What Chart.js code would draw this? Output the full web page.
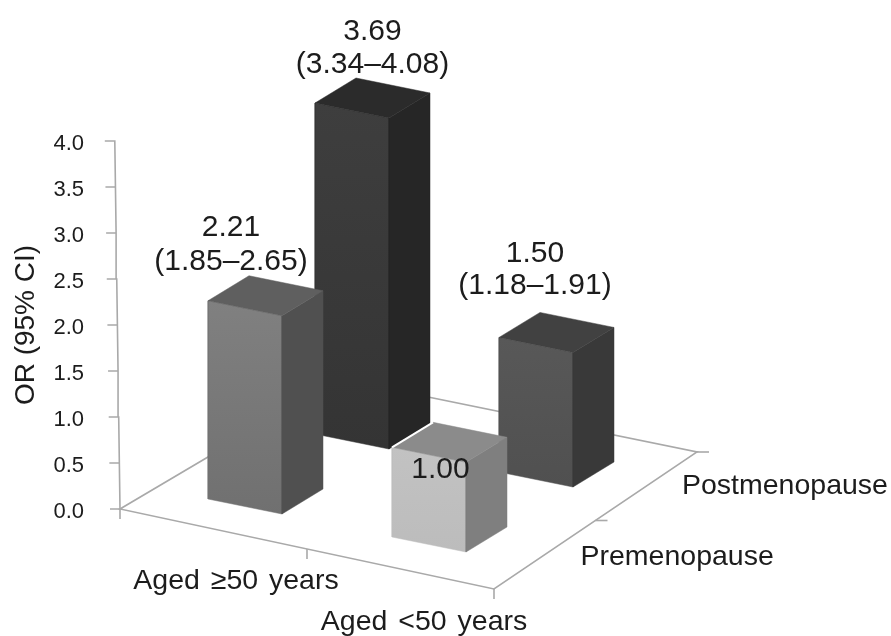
<!DOCTYPE html>
<html>
<head>
<meta charset="utf-8">
<style>html,body{margin:0;padding:0;background:#fff}#w{width:891px;height:636px}</style>
<script src="https://cdn.jsdelivr.net/npm/chart.js@4/dist/chart.umd.js"></script>
</head>
<body>
<div id="w"><canvas id="c"></canvas></div>
<script>
// ---- data ----
const ageGroups = ["Aged \u226550 years", "Aged <50 years"];
const menopause = ["Premenopause", "Postmenopause"];
const orPremenopause = [2.21, 1.00];
const orPostmenopause = [3.69, 1.50];
const ciPremenopause = ["(1.85\u20132.65)", ""];
const ciPostmenopause = ["(3.34\u20134.08)", "(1.18\u20131.91)"];
const yTicks = [0, 0.5, 1, 1.5, 2, 2.5, 3, 3.5, 4];
const yTitle = "OR (95% CI)";

// ---- styles per [age][menopause]: front top, front bottom, side, top ----
const shades = [
  [["#808080", "#707070", "#505050", "#5f5f5f"], ["#3e3e3e", "#343434", "#262626", "#2b2b2b"]],
  [["#c2c2c2", "#bcbcbc", "#7f7f7f", "#8b8b8b"], ["#585858", "#505050", "#393939", "#414141"]]
];
const FONT = '"Liberation Sans", Arial, sans-serif';
const AXIS_COLOR = "#a9a9a9";
const TEXT_COLOR = "#1c1c1c";

// ---- oblique 3D projection geometry ----
const LEFT = 105, TOP = 14, H = 636, W = 891, ZERO_Y = 509, UNIT = 92;
const HEIGHT_K = 0.975;                       // bars are a little shorter than the wall axis
const ORIGIN = [120, 509];                    // floor corner under the value axis
const BACK_CORNER = [340, 379];               // hidden floor corner behind the bars
const FLOOR_X = [374, 80];                    // full floor edge along age groups
const FLOOR_Z = [203, -137];                  // full floor edge along menopause status
const BAR0 = [208, 499];                      // first bar, front-left foot
const STEP_AGE = [184, 38], STEP_MENO = [107, -65];
const BAR_W = [74, 15], BAR_D = [41, -25];
const AXIS_LEAN = -1.3;                       // wall axis leans per OR unit
const TICK_LABEL_DROP = 2.5;                  // tick labels sit just below their tick marks

// screen-offset (sx, sy) + OR value -> data coordinates on the chart's own scales
function P(sx, sy, value) {
  return { x: sx - LEFT, y: value * HEIGHT_K + (ZERO_Y - sy) / UNIT };
}
function corner(a, m, u, d, value) {
  return P(
    BAR0[0] + a * STEP_AGE[0] + m * STEP_MENO[0] + u * BAR_W[0] + d * BAR_D[0],
    BAR0[1] + a * STEP_AGE[1] + m * STEP_MENO[1] + u * BAR_W[1] + d * BAR_D[1],
    value
  );
}
function floorPt(u, d) {
  return P(ORIGIN[0] + u * FLOOR_X[0] + d * FLOOR_Z[0], ORIGIN[1] + u * FLOOR_X[1] + d * FLOOR_Z[1], 0);
}
function poly(points, color, border) {
  return { data: points.concat([points[0]]), showLine: true, fill: "shape", backgroundColor: color,
           borderColor: border || color, borderWidth: 0.5, pointRadius: 0, tension: 0, clip: false };
}
function stroke(points, color, width) {
  return { data: points, showLine: true, fill: false, borderColor: color, borderWidth: width,
           pointRadius: 0, tension: 0, clip: false };
}
function frontFill(s, top, foot) {
  return function (context) {
    const chart = context.chart;
    if (!chart.chartArea) return s[0];
    const y = chart.scales.y;
    const g = chart.ctx.createLinearGradient(0, y.getPixelForValue(top.y), 0, y.getPixelForValue(foot.y));
    g.addColorStop(0, s[0]);
    g.addColorStop(1, s[1]);
    return g;
  };
}
function barFaces(a, m, v) {
  const s = shades[a][m];
  const faces = [
    poly([corner(a,m,0,0,0), corner(a,m,1,0,0), corner(a,m,1,0,v), corner(a,m,0,0,v)],
         frontFill(s, corner(a,m,0,0,v), corner(a,m,1,0,0)), s[1]),
    poly([corner(a,m,1,0,0), corner(a,m,1,1,0), corner(a,m,1,1,v), corner(a,m,1,0,v)], s[2]),
    poly([corner(a,m,0,0,v), corner(a,m,1,0,v), corner(a,m,1,1,v), corner(a,m,0,1,v)], s[3])
  ];
  return faces;
}

// axis: wall line with its tick marks, floor edges and their ticks
function axisPoints() {
  const pts = [];
  yTicks.forEach(v => {
    const ax = ORIGIN[0] + AXIS_LEAN * v;
    const o = { x: ax - LEFT, y: v };
    pts.push(o, { x: ax - LEFT - 10, y: v }, o);
  });
  return pts;
}
function tickDown(u) {
  const f = floorPt(u, 0);
  return [f, { x: f.x, y: f.y - 10 / UNIT }];
}
function tickRight(d) {
  const f = floorPt(1, d);
  return [f, { x: f.x + 12, y: f.y }];
}
const backCorner = P(BACK_CORNER[0], BACK_CORNER[1], 0);
const frame = [
  stroke(axisPoints(), AXIS_COLOR, 1.6),
  stroke([backCorner, floorPt(0, 0), floorPt(1, 0), floorPt(1, 1), backCorner], AXIS_COLOR, 1.6),
  stroke(tickDown(0), AXIS_COLOR, 1.6), stroke(tickDown(0.5), AXIS_COLOR, 1.6), stroke(tickDown(1), AXIS_COLOR, 1.6),
  stroke(tickRight(0.5), AXIS_COLOR, 1.6), stroke(tickRight(1), AXIS_COLOR, 1.6)
];

// painter's order: frame, back row, front row; the pale bar has a white rim where it crosses the dark one
const v10 = orPremenopause[1];
const painted = [].concat(
  frame,
  barFaces(0, 1, orPostmenopause[0]),
  barFaces(1, 1, orPostmenopause[1]),
  barFaces(0, 0, orPremenopause[0]),
  barFaces(1, 0, v10),
  [stroke([corner(1,0,0,0,v10), corner(1,0,0,1,v10)], "#ffffff", 2)]
);
// Chart.js paints the first dataset last
const datasets = painted.reverse();

// ---- text, anchored to bar tops through the scales ----
const valueLabels = [
  { a: 0, m: 0, v: orPremenopause[0], ci: ciPremenopause[0], dx: -34.5, dy: -26, gap: 34 },
  { a: 0, m: 1, v: orPostmenopause[0], ci: ciPostmenopause[0], dx: 0, dy: -25, gap: 33 },
  { a: 1, m: 0, v: orPremenopause[1], ci: ciPremenopause[1], dx: -9, dy: 36, gap: 0 },
  { a: 1, m: 1, v: orPostmenopause[1], ci: ciPostmenopause[1], dx: -21.5, dy: -38.5, gap: 32 }
];
const labelsPlugin = {
  id: "labels3d",
  afterDatasetsDraw(chart) {
    const { ctx, scales: { x, y } } = chart;
    ctx.save();
    ctx.fillStyle = TEXT_COLOR;
    ctx.textAlign = "center";
    ctx.textBaseline = "alphabetic";
    ctx.font = "30px " + FONT;
    valueLabels.forEach(l => {
      const f = corner(l.a, l.m, 0.5, 0.5, l.v);
      const px = x.getPixelForValue(f.x) + l.dx;
      const py = y.getPixelForValue(f.y) + l.dy;
      ctx.fillText(l.v.toFixed(2), px, py - l.gap);
      if (l.ci) ctx.fillText(l.ci, px, py);
    });
    ctx.font = "28.5px " + FONT;
    ctx.wordSpacing = "3px";
    // age groups below the front floor edge
    const ageOffset = [[-71, 40], [-70, 41]];
    ageGroups.forEach((t, i) => {
      const f = floorPt(i === 0 ? 0.5 : 1, 0);
      ctx.fillText(t, x.getPixelForValue(f.x) + ageOffset[i][0], y.getPixelForValue(f.y) + ageOffset[i][1]);
    });
    // menopause status beside the right floor edge
    ctx.textAlign = "left";
    const menoOffset = [[-15, 44], [-15, 42]];
    menopause.forEach((t, i) => {
      const f = floorPt(1, i === 0 ? 0.5 : 1);
      ctx.fillText(t, x.getPixelForValue(f.x) + menoOffset[i][0], y.getPixelForValue(f.y) + menoOffset[i][1]);
    });
    ctx.restore();
  }
};

new Chart(document.getElementById("c"), {
  type: "scatter",
  data: { datasets },
  plugins: [labelsPlugin],
  options: {
    responsive: true,
    maintainAspectRatio: false,
    animation: false,
    layout: { autoPadding: false, padding: { top: TOP, left: 0, right: 0, bottom: 0 } },
    plugins: { legend: { display: false }, tooltip: { enabled: false } },
    scales: {
      x: { type: "linear", display: false, min: 0, max: W - LEFT },
      y: {
        type: "linear",
        min: (ZERO_Y - H) / UNIT,
        max: (ZERO_Y - TOP) / UNIT,
        afterBuildTicks(s) { s.ticks = yTicks.map(v => ({ value: v - TICK_LABEL_DROP / UNIT })); },
        afterFit(s) { s.width = LEFT; s.paddingTop = 0; s.paddingBottom = 0; },
        grid: { display: false, drawTicks: false },
        border: { display: false },
        ticks: {
          autoSkip: false, padding: 21, color: TEXT_COLOR,
          font: { family: FONT, size: 22 },
          callback: (v, i) => yTicks[i].toFixed(1)
        },
        title: {
          display: true, text: yTitle, color: TEXT_COLOR,
          font: { family: FONT, size: 28 }, padding: { top: 9, bottom: 0 }
        }
      }
    }
  }
});
</script>
</body>
</html>
